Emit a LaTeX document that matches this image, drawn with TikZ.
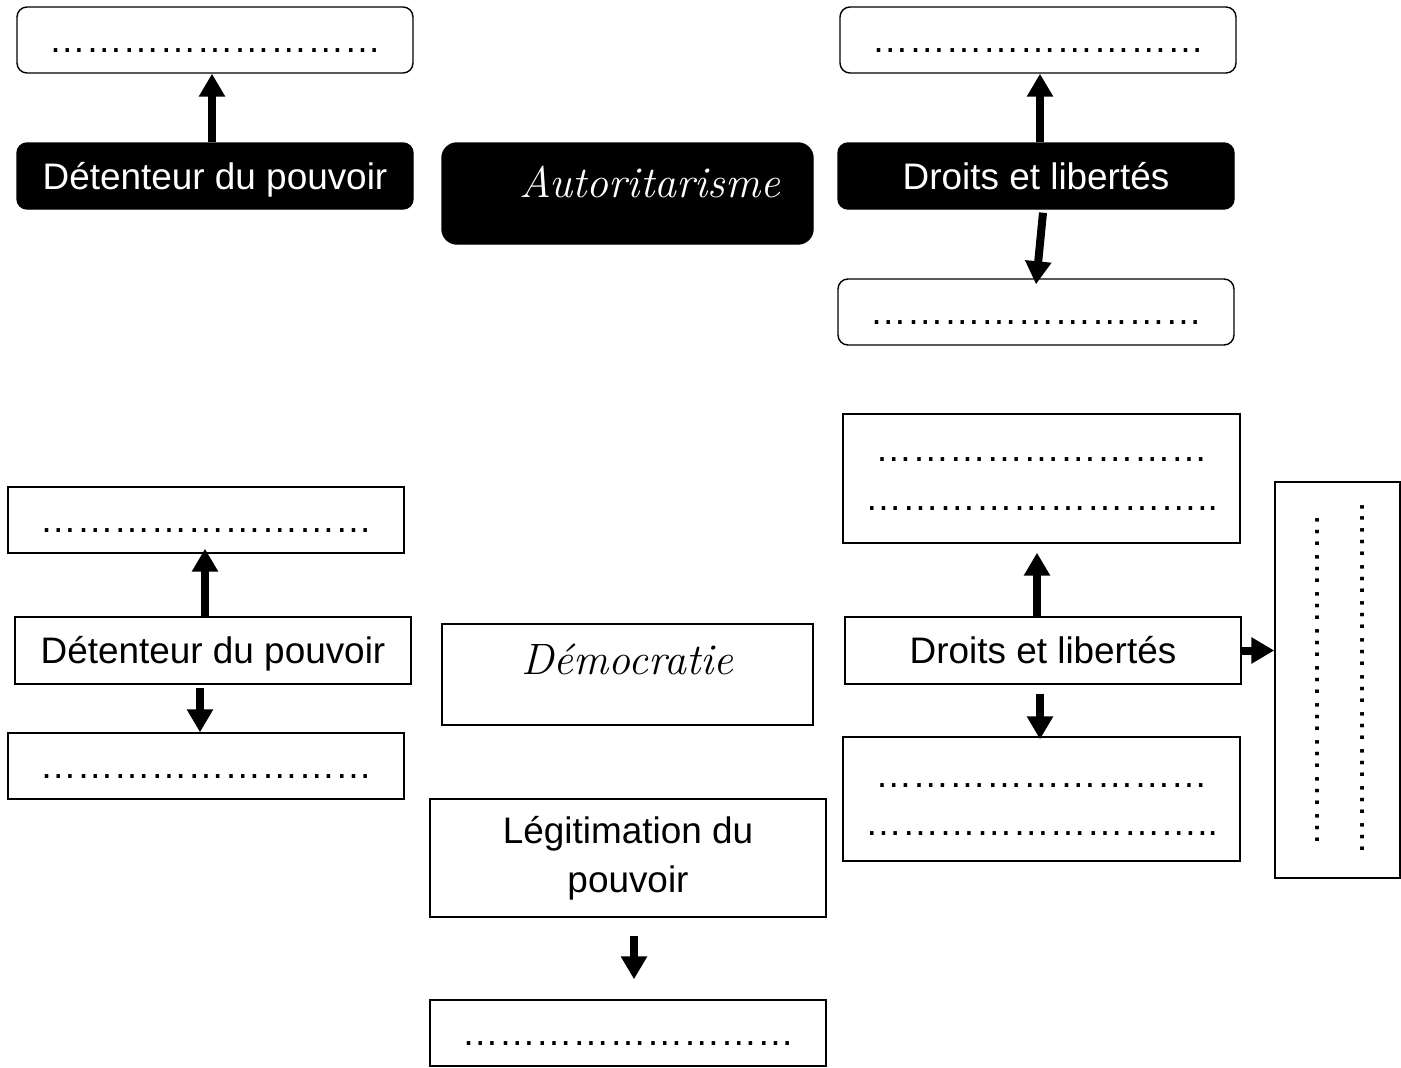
\documentclass[tikz,border=0pt]{standalone}
\usepackage{fontspec}
\setmainfont{Liberation Sans}
\newfontfamily\calfont{Latin Modern Roman}
\usetikzlibrary{arrows.meta}

\newcommand{\pointilles}{………………………}
\newcommand{\pointillesB}{………………………..}

\begin{document}
\begin{tikzpicture}[
    font=\fontsize{21}{27.7}\selectfont,
    rbox/.style={draw, line width=0.8pt, rounded corners=0.2cm, minimum width=7.92cm, minimum height=1.32cm, inner sep=0pt},
    noir/.style={rbox, fill=black, text=white},
    sbox/.style={draw, line width=0.8pt, minimum width=7.92cm, minimum height=1.32cm, inner sep=0pt},
    trou/.style={text height=0.48cm, text depth=0pt},
    mot/.style={text height=0.72cm, text depth=0.2cm},
    titre/.style={minimum width=7.42cm, minimum height=2.02cm, font=\calfont\itshape\fontsize{25}{30}\selectfont},
    fleche/.style={line width=0.16cm, -{Triangle[width=0.5cm,length=0.46cm]}}
]
    \useasboundingbox (0,0) rectangle (28.02,-21.36);
    % autoritarisme
    \node[rbox, trou] (hautG) at (4.30,-0.80) {\pointilles};
    \node[noir, mot] (detA) at (4.30,-3.52) {Détenteur du pouvoir};
    \node[noir, titre, rounded corners=0.3cm] (auto) at (12.55,-3.87) {\raisebox{-0.08cm}[0pt][0pt]{\hspace*{0.9cm}Autoritarisme}};
    \node[rbox, trou] (hautD) at (20.76,-0.80) {\pointilles};
    \node[noir, mot] (droitsA) at (20.72,-3.52) {Droits et libertés};
    \node[rbox, trou] (basD) at (20.72,-6.24) {\pointilles};
    \draw[fleche] ([xshift=-0.06cm]detA.north) -- ([xshift=-0.06cm]detA.north |- hautG.south);
    \draw[fleche] ([xshift=0.08cm]droitsA.north) -- ([xshift=0.08cm]droitsA.north |- hautD.south);
    \draw[fleche] ([xshift=0.14cm,yshift=-0.06cm]droitsA.south) -- ([yshift=-0.12cm]basD.north);
    % democratie
    \node[sbox, trou] (hautG2) at (4.12,-10.40) {\pointilles};
    \node[sbox, mot, minimum height=1.34cm] (detD) at (4.26,-13.01) {Détenteur du pouvoir};
    \node[sbox, trou] (basG2) at (4.12,-15.32) {\pointilles};
    \node[sbox, titre] (demo) at (12.55,-13.49) {\raisebox{0pt}[0pt][0pt]{Démocratie}};
    \node[sbox, minimum height=2.36cm, align=center] (legit) at (12.56,-17.16) {Légitimation du\\pouvoir};
    \node[sbox, trou] (legitBas) at (12.56,-20.66) {\pointilles};
    \node[sbox, minimum width=7.94cm, minimum height=2.58cm, align=center] (consH) at (20.83,-9.57) {\rule{0pt}{0.3cm}\pointilles\\\pointillesB};
    \node[sbox, mot, minimum height=1.34cm] (droitsD) at (20.86,-13.01) {Droits et libertés};
    \node[sbox, minimum width=7.94cm, minimum height=2.48cm, align=center] (consB) at (20.83,-15.98) {\rule{0pt}{0.5cm}\pointilles\\\pointillesB};
    \node[sbox, minimum width=2.50cm, minimum height=7.92cm] (cadre) at (26.75,-13.60) {};
    \node[rotate=90] (colA) at (26.36,-13.60) {\pointilles};
    \node[rotate=90] (colB) at (27.26,-13.58) {\pointillesB};
    \draw[fleche] ([xshift=-0.16cm]detD.north) -- ([xshift=-0.16cm,yshift=0.1cm]detD.north |- hautG2.south);
    \draw[fleche] ([xshift=-0.26cm,yshift=-0.06cm]detD.south) -- ([xshift=-0.26cm]detD.south |- basG2.north);
    \draw[fleche, shorten <=0.36cm, shorten >=0.4cm] ([xshift=0.12cm]legit.south) -- ([xshift=0.12cm]legit.south |- legitBas.north);
    \draw[fleche, shorten >=0.18cm] ([xshift=-0.12cm]droitsD.north) -- ([xshift=-0.12cm]droitsD.north |- consH.south);
    \draw[fleche, shorten <=0.18cm, shorten >=-0.06cm] ([xshift=-0.06cm]droitsD.south) -- ([xshift=-0.06cm]droitsD.south |- consB.north);
    \draw[fleche] (droitsD.east) -- (droitsD.east -| cadre.west);
\end{tikzpicture}
\end{document}
